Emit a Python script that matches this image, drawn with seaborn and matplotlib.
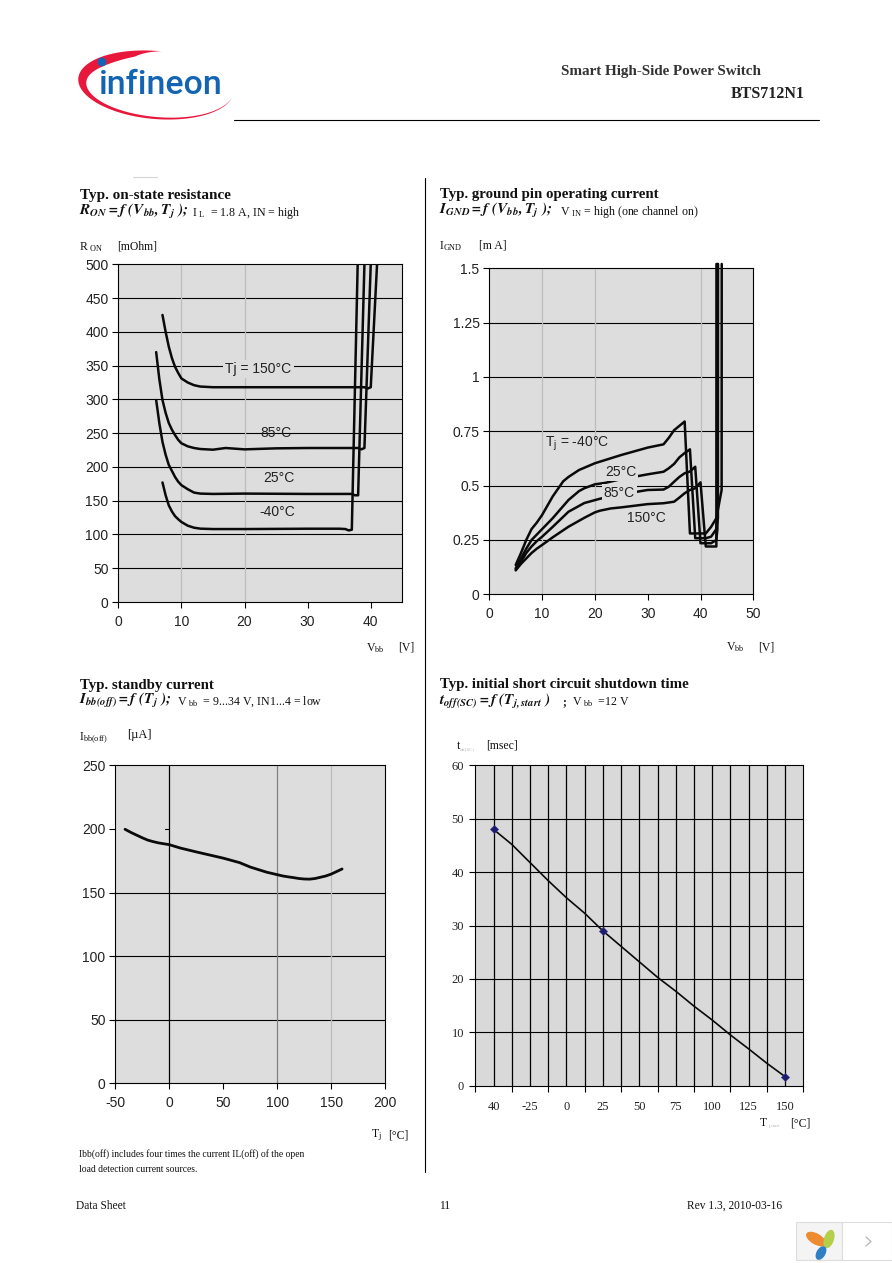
import numpy as np
import pandas as pd
import matplotlib
matplotlib.use('Agg')
import matplotlib.pyplot as plt
import seaborn as sns
from matplotlib.patches import Circle, Ellipse, Polygon, Rectangle

W, H = 892, 1263
SERIF = 'Liberation Serif'
SANS = 'Liberation Sans'
GREY = '#dddddd'

# on-state resistance
ron_m40_x = [7, 7.5, 8, 8.5, 9, 9.5, 10, 11, 12, 13, 15, 20, 30, 35, 36, 36.5, 37, 37.93]
ron_m40_y = [177, 158, 143, 134, 127, 122.5, 118.5, 113, 110, 108.6, 108, 108, 108.5, 108.5, 108, 106, 107, 500]
ron_25_x = [6, 6.5, 7, 7.5, 8, 8.5, 9, 9.5, 10, 11, 12, 13, 15, 20, 30, 37, 37.5, 38, 39]
ron_25_y = [299, 265, 237, 218, 203, 194, 185, 178, 173, 167, 162, 160.5, 160, 160.5, 160, 160, 158, 158, 500]
ron_85_x = [6, 6.5, 7, 7.5, 8, 8.5, 9, 9.5, 10, 11, 12, 13, 15, 17, 20, 25, 30, 38, 38.5, 39, 40]
ron_85_y = [370, 330, 299, 280, 265, 255, 247, 240, 235, 230.5, 228, 226.5, 225.5, 228, 226, 227.5, 228, 228, 226, 228, 500]
ron_150_x = [7, 7.5, 8, 8.5, 9, 9.5, 10, 11, 12, 13, 15, 20, 30, 39, 39.5, 40, 41]
ron_150_y = [425, 400, 378, 361, 348, 339, 331, 325, 321, 319, 318, 318, 318, 318, 316, 318, 500]

# ground pin current
gnd_m40_x = [5, 6, 7, 8, 9, 10, 12, 14, 15, 17, 20, 25, 30, 33, 34, 35, 36, 37, 38, 41, 42, 43, 44, 44.02]
gnd_m40_y = [.135, .19, .25, .30, .33, .365, .45, .52, .54, .572, .603, .641, .675, .69, .72, .755, .775, .795, .28, .28, .31, .35, .48, 1.52]
gnd_25_x = [5, 6, 7, 8, 9, 10, 12, 15, 17, 18, 20, 22, 25, 30, 33, 34, 35, 36, 37, 38, 39, 41, 42, 43, 43.3, 43.32]
gnd_25_y = [.12, .165, .21, .25, .275, .30, .35, .434, .475, .488, .506, .513, .53, .552, .564, .58, .60, .63, .65, .667, .258, .258, .265, .30, .35, 1.52]
gnd_85_x = [5, 6, 7, 8, 9, 10, 12, 15, 18, 21, 25, 30, 33, 34, 35, 36, 37, 38, 39, 40, 42, 43, 43.2, 43.22]
gnd_85_y = [.115, .15, .19, .22, .245, .265, .31, .38, .42, .44, .46, .48, .482, .495, .518, .54, .557, .565, .587, .235, .235, .25, .30, 1.52]
gnd_150_x = [5, 6, 7, 8, 9, 10, 12, 15, 18, 20, 21, 23, 25, 30, 33, 35, 36, 37, 38, 39, 40, 41, 43, 43.02]
gnd_150_y = [.11, .14, .165, .19, .21, .227, .262, .311, .352, .377, .385, .395, .40, .415, .419, .426, .445, .465, .48, .488, .515, .22, .22, 1.52]

# standby current
stb_x = [-41, -35, -30, -25, -20, -15, -10, -5, 0, 10, 25, 50, 65, 75, 90, 100, 105, 110, 115, 120, 125, 130, 135, 140, 145, 150, 155, 160]
stb_y = [199.7, 197, 195, 193, 191.2, 190, 189, 188.3, 187.6, 185, 181.9, 177, 173.5, 170, 166, 164, 163, 162.3, 161.7, 161, 160.6, 160.5, 161, 162, 163, 164.5, 166.5, 168.5]

# shutdown time, x is the category position
sc_labels = ['40', '-25', '0', '25', '50', '75', '100', '125', '150']
sc_pos = [0, .5, 1, 1.5, 2, 2.5, 3, 3.5, 4, 4.5, 5, 5.5, 6, 6.5, 7, 7.5, 8]
sc_y = [48, 45.2, 41.8, 38.4, 35.2, 32.3, 29, 26.1, 23.2, 20.3, 17.7, 14.9, 12.3, 9.5, 6.9, 4.2, 1.7]
sc_mark_pos = [0, 3, 8]
sc_mark_y = [48, 29, 1.7]

sns.set_theme(style='white')
plt.rcParams['font.family'] = [SERIF, 'DejaVu Sans']
plt.rcParams['mathtext.default'] = 'regular'
plt.rcParams['axes.unicode_minus'] = False
fig = plt.figure(figsize=(W / 100, H / 100), dpi=100, facecolor='white')


def box(left, top, right, bottom):
    return fig.add_axes([left / W, 1 - bottom / H, (right - left) / W, (bottom - top) / H], facecolor=GREY)


def txt(x, y, s, size=8.5, **kw):
    kw.setdefault('va', 'center')
    kw.setdefault('color', '#111111')
    fig.text(x / W, 1 - (y + 1) / H, s, fontsize=size, **kw)


def hline(x0, x1, y, color='black', lw=0.8):
    fig.add_artist(plt.Line2D([x0 / W, x1 / W], [1 - y / H, 1 - y / H], color=color, lw=lw))


def vline(x, y0, y1, color='black', lw=0.8):
    fig.add_artist(plt.Line2D([x / W, x / W], [1 - y0 / H, 1 - y1 / H], color=color, lw=lw))


def style(ax, xlim, ylim, xticks, yticks, hgrid, vgrid, size=10, xlabels=None, ylabels=None):
    ax.set_xlim(xlim)
    ax.set_ylim(ylim)
    ax.set_xticks(xticks)
    ax.set_yticks(yticks)
    if xlabels:
        ax.set_xticklabels(xlabels)
    if ylabels:
        ax.set_yticklabels(ylabels)
    ax.tick_params(length=4, width=0.8, color='black', labelsize=size, labelcolor='#222222', pad=3,
                   bottom=True, left=True)
    ax.tick_params(axis='x', pad=5)
    for lab in ax.get_xticklabels() + ax.get_yticklabels():
        lab.set_family(SANS)
    for y in hgrid:
        ax.axhline(y, color='black', lw=0.8, zorder=1)
    for x, c in vgrid:
        ax.axvline(x, color=c, lw=0.9, zorder=1)
    for s in ax.spines.values():
        s.set_color('black')
        s.set_linewidth(0.8)
    ax.set_xlabel('')
    ax.set_ylabel('')


def curve(ax, x, y, lw=1.8, clip=True):
    line = sns.lineplot(x=x, y=y, ax=ax, color='#0a0a0a', lw=lw, sort=False, estimator=None, zorder=3)
    line.lines[-1].set_clip_on(clip)
    line.lines[-1].set_solid_joinstyle('round')


def note(ax, x, y, s, mask=True):
    bb = dict(facecolor=GREY, edgecolor='none', pad=1.5) if mask else None
    ax.text(x, y, s, family=SANS, fontsize=10, color='#222222', ha='center', va='center', bbox=bb, zorder=5)


# top left
ax1 = box(118.3, 264.3, 402.3, 602)
style(ax1, (0, 45), (0, 500), range(0, 41, 10), range(0, 501, 50), range(50, 451, 50),
      [(10, '#bdbdbd'), (20, '#bdbdbd')])
for x, y in [(ron_m40_x, ron_m40_y), (ron_25_x, ron_25_y), (ron_85_x, ron_85_y), (ron_150_x, ron_150_y)]:
    curve(ax1, x, y)
note(ax1, 22.2, 345, 'Tj = 150°C')
note(ax1, 25, 250, '85°C', False)
note(ax1, 25.4, 183, '25°C', False)
note(ax1, 25.2, 133, '-40°C', False)

# top right
ax2 = box(489.3, 268.3, 753.3, 594.3)
style(ax2, (0, 50), (0, 1.5), range(0, 51, 10), [0, .25, .5, .75, 1, 1.25, 1.5], [.25, .5, .75, 1, 1.25],
      [(10, '#bdbdbd'), (20, '#bdbdbd'), (40, '#bdbdbd')],
      ylabels=['0', '0.25', '0.5', '0.75', '1', '1.25', '1.5'])
for x, y in [(gnd_m40_x, gnd_m40_y), (gnd_25_x, gnd_25_y), (gnd_85_x, gnd_85_y), (gnd_150_x, gnd_150_y)]:
    curve(ax2, x, y, clip=False)
note(ax2, 16.7, 0.69, 'T$_{j}$ = -40°C', False)
note(ax2, 24.9, 0.561, '25°C')
note(ax2, 24.6, 0.468, '85°C')
note(ax2, 29.7, 0.353, '150°C', False)

# bottom left
ax3 = box(115.3, 765.3, 385.3, 1083.3)
style(ax3, (-50, 200), (0, 250), range(-50, 201, 50), range(0, 251, 50), [50, 100, 150],
      [(0, 'black'), (100, '#808080'), (150, '#bdbdbd')], size=10)
ax3.plot([-4, 0], [200, 200], color='black', lw=0.8, zorder=1)
curve(ax3, stb_x, stb_y, lw=2.0)

# bottom right
ax4 = box(475.3, 765.3, 803.3, 1085.7)
ax4.set_facecolor('#d9d9d9')
style(ax4, (-.5, 8.5), (0, 60), np.arange(-.5, 8.6), range(0, 61, 10), range(10, 51, 10),
      [(p, 'black') for p in np.arange(0, 8.1, .5)], size=9,
      xlabels=[''] * 10)
ax4.tick_params(pad=4)
for lab in ax4.get_yticklabels():
    lab.set_family(SERIF)
for p, lab in enumerate(sc_labels):
    ax4.annotate(lab, (p, 0), xytext=(0, -15), textcoords='offset points', ha='center', va='center',
                 fontsize=9, color='#222222', family=SERIF)
curve(ax4, sc_pos, sc_y, lw=1.2)
sns.scatterplot(x=sc_mark_pos, y=sc_mark_y, ax=ax4, marker='D', s=18, color='#1c1c6e', edgecolor='#3a3a90', zorder=4)

# headings
txt(80, 194.5, 'Typ. on-state resistance', 10.9, weight='bold')
txt(79, 210, r'$\mathbfit{R_{ON}=f\ (V_{bb},T_j\ );}$', 11, math_fontfamily='stix')
txt(192, 212, 'I$_{\\ L}$  = 1.8 A, IN = high', 8.6)
txt(79, 246, 'R$_{\\ ON}$', 8.5)
txt(117, 245.5, '[mOhm]', 8.5)
txt(366, 647, 'V$_{bb}$', 8.5)
txt(398, 647, '[V]', 8.5)

txt(440, 193.5, 'Typ. ground pin operating current', 10.7, weight='bold')
txt(439, 209, r'$\mathbfit{I_{GND}=f\ (V_{bb},T_j\ );}$', 11, math_fontfamily='stix')
txt(560, 211, 'V$_{\\ IN}$ = high (one channel on)', 8.6)
txt(439, 245, 'I$_{GND}$', 8.5)
txt(479, 245, '[m A]', 8.5)
txt(726, 646, 'V$_{bb}$', 8.5)
txt(758, 646, '[V]', 8.5)

txt(80, 684.5, 'Typ. standby current', 10.7, weight='bold')
txt(79, 700, r'$\mathbfit{I_{bb(off)}=f\ (T_j\ );}$', 11, math_fontfamily='stix')
txt(177, 701, 'V$_{\\ bb}$  = 9...34 V, IN1...4 = low', 8.6)
txt(79, 737, 'I$_{bb(off)}$', 8.5)
txt(127, 734, '[µA]', 9)
txt(371, 1134, 'T$_{j}$', 8.5)
txt(388, 1134, '[°C]', 8.5)
txt(79, 1153, 'Ibb(off) includes four times the current IL(off) of the open', 6.9)
txt(79, 1168, 'load detection current sources.', 6.9)

txt(440, 683.5, 'Typ. initial short circuit shutdown time', 10.7, weight='bold')
txt(439, 700, r'$\mathbfit{t_{off(SC)}=f\ (T_{j,start}\ )}$', 11, math_fontfamily='stix')
txt(562, 701, ';', 8.5, weight='bold')
txt(572, 701, 'V$_{\\ bb}$  =12 V', 8.6)
txt(457, 745, 't', 8.5)
txt(460, 748, 'off(SC)', 3.6, color='#b5b5b5')
txt(486, 745, '[msec]', 8.5)
txt(760, 1122, 'T', 8.5)
txt(768, 1125, 'j,start', 3.6, color='#b5b5b5')
txt(790, 1122, '[°C]', 8.5)

# page furniture
txt(761, 71, 'Smart High-Side Power Switch', 10.9, weight='bold', ha='right', color='#333333')
txt(805, 93, 'BTS712N1', 11.5, weight='bold', ha='right', color='#222222')
hline(234, 819, 119.5)
hline(133, 157, 177, color='#d5d5d5')
vline(425, 178, 1172)
txt(76, 1205, 'Data Sheet', 8.3)
txt(445, 1205, '11', 8.3, ha='center')
txt(782, 1205, 'Rev 1.3, 2010-03-16', 8.3, ha='right')

# logo
over = fig.add_axes([0, 0, 1, 1], facecolor='none')
over.set_xlim(0, W)
over.set_ylim(H, 0)
over.axis('off')
s = np.linspace(0, 1, 160)
th = np.radians(88 + 262 * s)
rot = np.radians(5)
w = (10 * np.exp(-((s - .2) / .2) ** 2) + 3.5 * np.sin(np.pi * s)) * np.clip(s * 12, 0, 1)
ex, ey = 78 * np.cos(th), 34 * np.sin(th)
ex2, ey2 = (78 - w) * np.cos(th), (34 - w * .75) * np.sin(th)
ox = 156 + ex * np.cos(rot) + ey * np.sin(rot)
oy = 85 + ex * np.sin(rot) - ey * np.cos(rot)
ix = 156 + ex2 * np.cos(rot) + ey2 * np.sin(rot)
iy = 85 + ex2 * np.sin(rot) - ey2 * np.cos(rot)
over.add_patch(Polygon(np.r_[np.c_[ox, oy], np.c_[ix, iy][::-1]], closed=True, color='#e8183c', lw=0))
over.add_patch(Circle((102, 62), 4.4, color='#1464b4', lw=0))
over.text(99, 85, 'infineon', family='Roboto', weight='medium', fontsize=24.5, color='#1464b4', va='center', ha='left')

# corner widget
over.add_patch(Rectangle((796, 1222), 46, 38, fc='#f4f4f4', ec='#dddddd', lw=.8))
over.add_patch(Rectangle((842, 1222), 50, 38, fc='white', ec='#dddddd', lw=.8))
over.add_patch(Ellipse((816, 1239), 22, 11, angle=30, color='#ee8a30', lw=0))
over.add_patch(Ellipse((829, 1239), 19, 10, angle=-72, color='#b4cf4a', lw=0))
over.add_patch(Ellipse((821, 1253), 15, 9, angle=-60, color='#2f7fc4', lw=0))
over.plot([866, 871, 866], [1237, 1241.5, 1246], color='#b5b5b5', lw=.9)

fig.savefig('out.png', dpi=100)
